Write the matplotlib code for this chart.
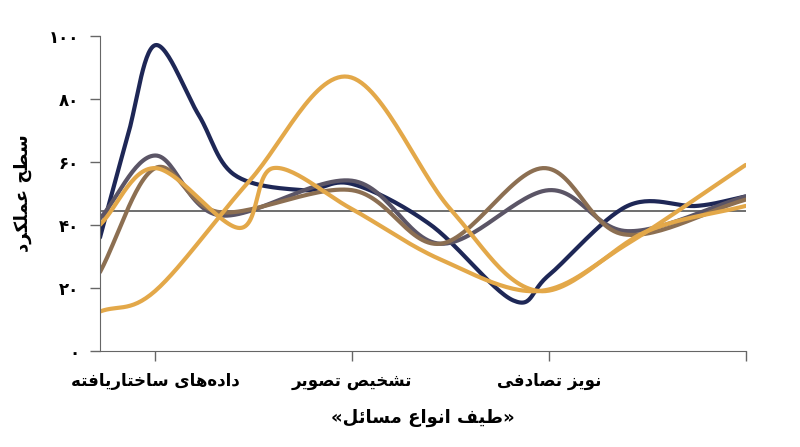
import unicodedata
import numpy as np
import matplotlib
matplotlib.use("Agg")
import matplotlib.pyplot as plt

plt.rcParams['font.family'] = ['DejaVu Sans']

NONJOIN_LEFT = set("اآأإدذرزژوؤة\u200c ")

def _form(c, kind):
    try:
        n = unicodedata.name(c)
        return unicodedata.lookup(n + " " + kind + " FORM")
    except (KeyError, ValueError):
        return c

def _is_ar(c):
    return '\u0600' <= c <= '\u06ff'

def fa(s):
    chars = list(s)
    out = []
    for i, c in enumerate(chars):
        if c == '\u200c':
            continue
        if not _is_ar(c) or not unicodedata.name(c, '').startswith('ARABIC LETTER'):
            out.append(c); continue
        prev = chars[i-1] if i > 0 else ' '
        nxt = chars[i+1] if i+1 < len(chars) else ' '
        jp = _is_ar(prev) and prev not in NONJOIN_LEFT and unicodedata.name(prev, '').startswith('ARABIC LETTER')
        jn = c not in NONJOIN_LEFT and _is_ar(nxt) and unicodedata.name(nxt, '').startswith('ARABIC LETTER')
        if jp and jn: f = _form(c, "MEDIAL")
        elif jp: f = _form(c, "FINAL")
        elif jn: f = _form(c, "INITIAL")
        else: f = _form(c, "ISOLATED")
        out.append(f)
    return ''.join(reversed(out))

categories = ["داده‌های ساختاریافته", "تشخیص تصویر", "نویز تصادفی"]
y_ticks = [0, 20, 40, 60, 80, 100]
y_tick_labels = ["۰", "۲۰", "۴۰", "۶۰", "۸۰", "۱۰۰"]
ref_line = 44.5

navy_x = [-0.28, -0.14, 0, 0.22, 0.4, 0.75, 1, 1.4, 1.82, 2, 2.4, 2.75, 3]
navy_y = [36, 68, 97, 75, 56, 51, 53, 40, 16, 24, 46, 46, 49]
gray_x = [-0.28, 0, 0.33, 1, 1.45, 2, 2.4, 3]
gray_y = [42, 62, 43, 54, 34, 51, 38, 49]
brown_x = [-0.28, 0, 0.33, 1, 1.45, 1.97, 2.38, 3]
brown_y = [25, 58, 44, 51, 34, 58, 37, 48]
lorange_x = [-0.28, 0, 0.43, 0.6, 1, 1.45, 1.95, 2.4, 3]
lorange_y = [40, 58, 39, 58, 45, 29, 19, 34, 59]
orange_x = [-0.28, 0, 0.48, 0.98, 1.5, 1.95, 2.5, 3]
orange_y = [12.5, 19, 54, 87, 45, 19, 38, 46]

def smooth(xs, ys, n=30):
    x = np.array(xs, float); y = np.array(ys, float)
    xp = np.concatenate([[2*x[0]-x[1]], x, [2*x[-1]-x[-2]]])
    yp = np.concatenate([[2*y[0]-y[1]], y, [2*y[-1]-y[-2]]])
    X, Y = [], []
    for i in range(1, len(xp)-2):
        t = np.linspace(0, 1, n, endpoint=False)
        for arr, out in ((xp, X), (yp, Y)):
            p0, p1, p2, p3 = arr[i-1], arr[i], arr[i+1], arr[i+2]
            out.extend(0.5*((2*p1) + (-p0+p2)*t + (2*p0-5*p1+4*p2-p3)*t**2 + (-p0+3*p1-3*p2+p3)*t**3))
    X.append(x[-1]); Y.append(y[-1])
    return X, Y

fig = plt.figure(figsize=(8, 4.47), dpi=100)
ax = fig.add_axes([0.125, 0.215, 0.807, 0.705])
ax.axhline(ref_line, color='#555555', lw=1.2, zorder=1)
for xs, ys, col in [(navy_x, navy_y, '#1e2756'), (gray_x, gray_y, '#5b5566'),
                    (brown_x, brown_y, '#8c6f52'), (lorange_x, lorange_y, '#e3a849'),
                    (orange_x, orange_y, '#e3a849')]:
    X, Y = smooth(xs, ys)
    ax.plot(X, Y, color=col, lw=3, solid_capstyle='round', zorder=2)

ax.set_xlim(-0.28, 3)
ax.set_ylim(0, 100)
ax.set_xticks([0, 1, 2, 3])
ax.set_xticklabels([fa(c) for c in categories] + [""], fontsize=12, fontweight='bold')
ax.set_yticks(y_ticks)
ax.set_yticklabels(y_tick_labels, fontsize=12, fontweight='bold')
for s in ['top', 'right']:
    ax.spines[s].set_visible(False)
for s in ['left', 'bottom']:
    ax.spines[s].set_color('#666666')
ax.tick_params(colors='#666666', length=7, width=1, labelcolor='black', pad=8)
ax.set_ylabel(fa("سطح عملکرد"), fontsize=13, fontweight='bold', labelpad=12)
ax.set_xlabel("«" + fa("طیف انواع مسائل") + "»", fontsize=13, fontweight='bold', labelpad=14)
fig.savefig("out.png", dpi=100)
